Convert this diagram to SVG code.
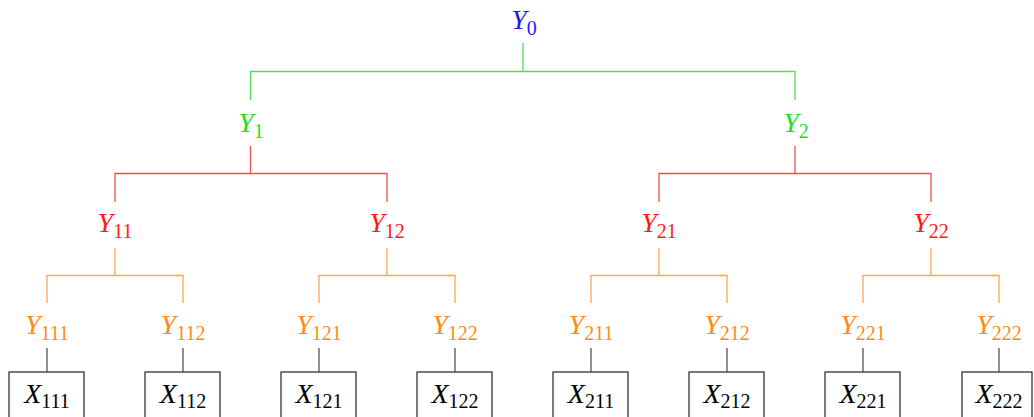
<svg xmlns="http://www.w3.org/2000/svg" width="1034" height="417" viewBox="0 0 1034 417">
<style>
text{font-family:"Liberation Serif","DejaVu Serif",serif;font-style:italic;font-size:28px;text-anchor:middle}
.s{font-size:20px;font-style:normal}
.b{fill:#1a1aff}.g{fill:#1de01d}.r{fill:#ff1a1a}.o{fill:#ff8a1a}.k{fill:#000}
.lg{stroke:#55dd55}.lr{stroke:#ee5050}.lo{stroke:#ffa64d}.lk{stroke:#555}
path{fill:none;stroke-width:1.3}
rect{fill:#fff;stroke:#222;stroke-width:1.2}
</style>
<g id="connectors">
<path class="lg" d="M523,43V71.5M250.5,100V71.5H795V100"/>
<path class="lr" d="M250.5,146V173.5M115,202V173.5H387V202"/>
<path class="lr" d="M795,146V173.5M659,202V173.5H931V202"/>
<path class="lo" d="M115,248V275.5M47,303V275.5H183V303"/>
<path class="lo" d="M387,248V275.5M319,303V275.5H455V303"/>
<path class="lo" d="M659,248V275.5M591,303V275.5H727V303"/>
<path class="lo" d="M931,248V275.5M863,303V275.5H999V303"/>
<path class="lk" d="M47,348V372M183,348V372M319,348V372M455,348V372M591,348V372M727,348V372M863,348V372M999,348V372"/>
</g>
<g id="Y0"><text class="b" x="524" y="29">Y<tspan class="s" dy="6">0</tspan></text></g>
<g id="Y1"><text class="g" x="251" y="132">Y<tspan class="s" dy="6">1</tspan></text></g>
<g id="Y2"><text class="g" x="796" y="132">Y<tspan class="s" dy="6">2</tspan></text></g>
<g id="Y11"><text class="r" x="115" y="232">Y<tspan class="s" dy="6">11</tspan></text></g>
<g id="Y12"><text class="r" x="387" y="232">Y<tspan class="s" dy="6">12</tspan></text></g>
<g id="Y21"><text class="r" x="659" y="232">Y<tspan class="s" dy="6">21</tspan></text></g>
<g id="Y22"><text class="r" x="931" y="232">Y<tspan class="s" dy="6">22</tspan></text></g>
<g id="Y111"><text class="o" x="47" y="334">Y<tspan class="s" dy="6">111</tspan></text></g>
<g id="Y112"><text class="o" x="183" y="334">Y<tspan class="s" dy="6">112</tspan></text></g>
<g id="Y121"><text class="o" x="319" y="334">Y<tspan class="s" dy="6">121</tspan></text></g>
<g id="Y122"><text class="o" x="455" y="334">Y<tspan class="s" dy="6">122</tspan></text></g>
<g id="Y211"><text class="o" x="591" y="334">Y<tspan class="s" dy="6">211</tspan></text></g>
<g id="Y212"><text class="o" x="727" y="334">Y<tspan class="s" dy="6">212</tspan></text></g>
<g id="Y221"><text class="o" x="863" y="334">Y<tspan class="s" dy="6">221</tspan></text></g>
<g id="Y222"><text class="o" x="999" y="334">Y<tspan class="s" dy="6">222</tspan></text></g>
<g id="X111"><rect x="9" y="372" width="75" height="50"/><text class="k" x="47" y="403">X<tspan class="s" dy="5">111</tspan></text></g>
<g id="X112"><rect x="145" y="372" width="75" height="50"/><text class="k" x="183" y="403">X<tspan class="s" dy="5">112</tspan></text></g>
<g id="X121"><rect x="281" y="372" width="75" height="50"/><text class="k" x="319" y="403">X<tspan class="s" dy="5">121</tspan></text></g>
<g id="X122"><rect x="417" y="372" width="75" height="50"/><text class="k" x="455" y="403">X<tspan class="s" dy="5">122</tspan></text></g>
<g id="X211"><rect x="553" y="372" width="75" height="50"/><text class="k" x="591" y="403">X<tspan class="s" dy="5">211</tspan></text></g>
<g id="X212"><rect x="689" y="372" width="75" height="50"/><text class="k" x="727" y="403">X<tspan class="s" dy="5">212</tspan></text></g>
<g id="X221"><rect x="825" y="372" width="75" height="50"/><text class="k" x="863" y="403">X<tspan class="s" dy="5">221</tspan></text></g>
<g id="X222"><rect x="962" y="372" width="70" height="50"/><text class="k" x="999" y="403">X<tspan class="s" dy="5">222</tspan></text></g>
</svg>
